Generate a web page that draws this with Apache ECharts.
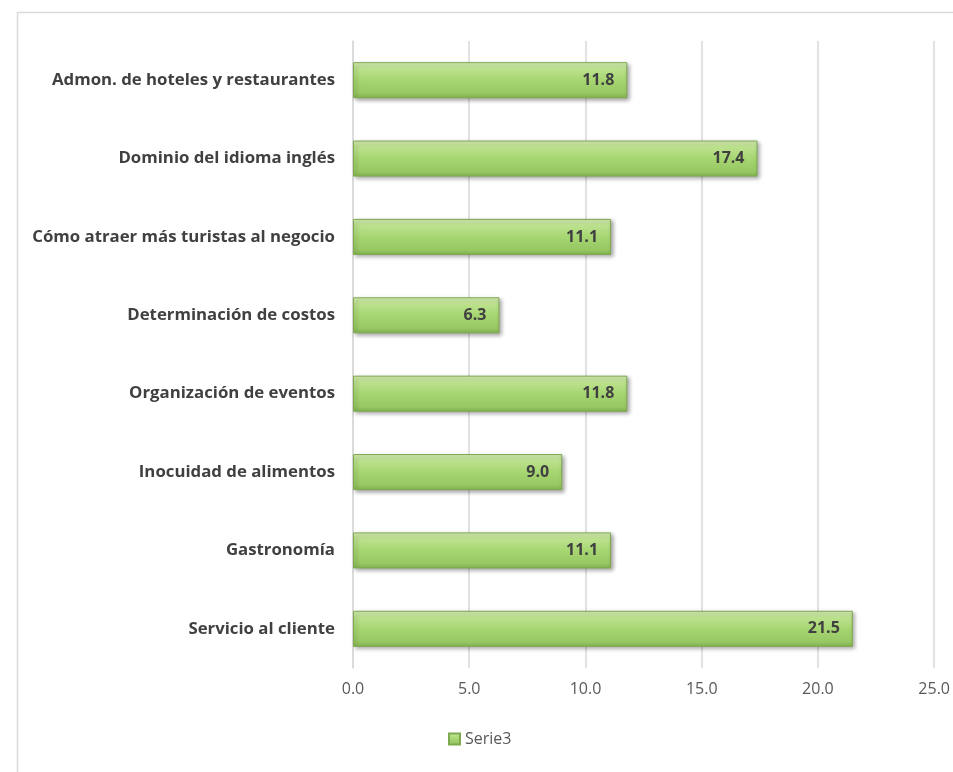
<!DOCTYPE html>
<html><head><meta charset="utf-8">
<script src="https://cdn.jsdelivr.net/npm/echarts@6/dist/echarts.min.js"></script>
<style>html,body{margin:0;padding:0;background:#fff}#c{width:953px;height:772px}</style>
</head><body><div id="c"></div>
<script>
const categories = ["Servicio al cliente","Gastronomía","Inocuidad de alimentos","Organización de eventos","Determinación de costos","Cómo atraer más turistas al negocio","Dominio del idioma inglés","Admon. de hoteles y restaurantes"];
const serie3 = [21.5, 11.1, 9.0, 11.8, 6.3, 11.1, 17.4, 11.8];
const xTicks = {min: 0, max: 25, interval: 5};
const seriesName = "Serie3";

const F = '"Open Sans", sans-serif';
const chart = echarts.init(document.getElementById('c'), null, {renderer:'canvas'});
const green = new echarts.graphic.LinearGradient(0,0,0,1,[
  {offset:0,color:'#d8efb6'},{offset:0.18,color:'#bde28f'},{offset:0.5,color:'#a6d671'},{offset:0.85,color:'#98c863'},{offset:1,color:'#84b552'}]);
chart.setOption({
  animation:false,
  textStyle:{fontFamily:F},
  graphic:[{type:'rect',shape:{x:17.5,y:12.5,width:1000,height:1000},style:{fill:'none',stroke:'#d9d9d9',lineWidth:1.5},silent:true}],
  grid:{left:353,right:15,top:41,bottom:104,containLabel:false},
  legend:{bottom:20,left:443,itemWidth:11,itemHeight:11,itemGap:3,data:[{name:seriesName,icon:'rect'}],
    textStyle:{color:'#595959',fontSize:16,fontFamily:F}},
  xAxis:{type:'value',min:xTicks.min,max:xTicks.max,interval:xTicks.interval,
    axisLine:{show:false},axisTick:{show:false},
    splitLine:{lineStyle:{color:'#d9d9d9',width:1.5}},
    axisLabel:{formatter:v=>v.toFixed(1),color:'#595959',fontSize:16,margin:13,fontFamily:F}},
  yAxis:{type:'category',data:categories,
    axisLine:{show:true,lineStyle:{color:'#d9d9d9',width:1.5}},axisTick:{show:false},
    axisLabel:{color:'#404040',fontSize:16.8,fontWeight:'bold',margin:18,fontFamily:F}},
  series:[{name:seriesName,type:'bar',data:serie3,barWidth:'46%',
    itemStyle:{color:green,borderColor:'#7ea94f',borderWidth:1,shadowColor:'rgba(0,0,0,0.35)',shadowBlur:4,shadowOffsetX:2,shadowOffsetY:2},
    label:{show:true,position:'insideRight',distance:13,formatter:p=>p.value.toFixed(1),color:'#404040',fontSize:16,fontWeight:'bold',fontFamily:F}}]
});
</script></body></html>
